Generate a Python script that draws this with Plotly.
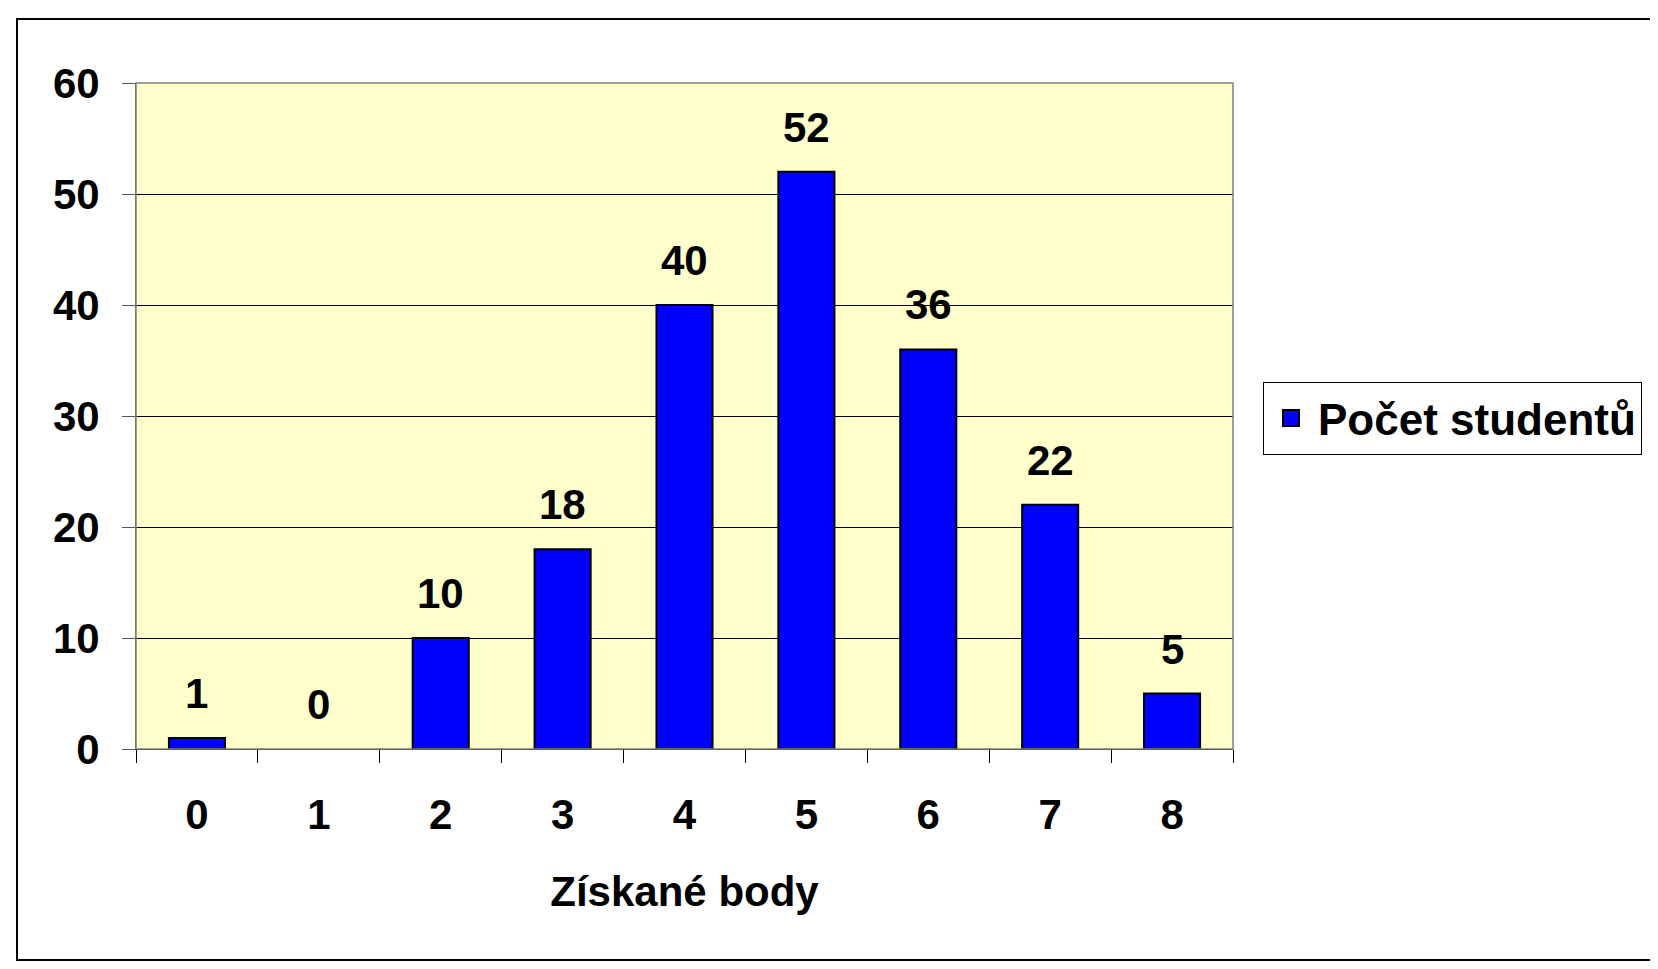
import plotly.graph_objects as go

categories = ["0", "1", "2", "3", "4", "5", "6", "7", "8"]
values = [1, 0, 10, 18, 40, 52, 36, 22, 5]
series_name = "Počet studentů"
x_title = "Získané body"
y_ticks = [0, 10, 20, 30, 40, 50, 60]

FONT = "Liberation Sans, Arial, sans-serif"
BLUE = "#0000FF"

# page body has an 8px default margin -> work in page coords minus 8
OFF = 8
W, H = 1650, 961
L, R, T, B = 136 - OFF, 1233 - OFF, 83 - OFF, 749 - OFF

fig = go.Figure()
fig.add_trace(go.Bar(
    x=categories, y=values, name=series_name, showlegend=False,
    marker=dict(color=BLUE,
                line=dict(color="black", width=[2 if v > 0 else 0 for v in values])),
))
# legend entry with a larger square swatch
fig.add_trace(go.Scatter(
    x=[None], y=[None], mode="markers", name=series_name,
    marker=dict(symbol="square", size=24, color=BLUE, line=dict(color="black", width=2)),
))

for c, v in zip(categories, values):
    fig.add_annotation(x=c, y=v, text=str(v), showarrow=False,
                       xanchor="center", yanchor="bottom", yshift=19,
                       font=dict(family=FONT, size=42, color="black", weight="bold"))

fig.update_layout(
    width=W, height=H,
    margin=dict(l=L, r=W - R, t=T, b=H - B),
    paper_bgcolor="white",
    plot_bgcolor="#FFFFCC",
    bargap=0.54,
    font=dict(family=FONT, color="black", size=42),
    showlegend=True,
    legend=dict(
        x=(1263 - OFF - L) / (R - L), y=(B - (382 - OFF)) / (B - T),
        xanchor="left", yanchor="top",
        bgcolor="white", bordercolor="black", borderwidth=1,
        font=dict(family=FONT, size=44, color="black", weight="bold"),
        itemsizing="trace", itemwidth=44,
        tracegroupgap=0,
    ),
    xaxis=dict(
        type="category",
        tickfont=dict(family=FONT, size=42, weight="bold"),
        ticks="outside", ticklen=13, tickwidth=1, tickcolor="black",
        tickson="boundaries",
        showline=True, linecolor="black", linewidth=1,
        showgrid=False,
        title=dict(text=x_title, font=dict(family=FONT, size=42, weight="bold"), standoff=39),
        ticklabelstandoff=29,
    ),
    yaxis=dict(
        range=[0, 60], tickvals=y_ticks,
        tickfont=dict(family=FONT, size=42, weight="bold"),
        ticks="outside", ticklen=13, tickwidth=1, tickcolor="#555555",
        showline=True, linecolor="#555555", linewidth=1,
        showgrid=True, gridcolor="black", gridwidth=1,
        zeroline=False,
        ticklabelstandoff=14,
    ),
)

# plot-area border and chart frame
fig.add_shape(type="rect", xref="paper", yref="paper", x0=0, y0=0, x1=1, y1=1,
              line=dict(color="#808080", width=1.5), layer="above")
fig.add_shape(type="rect", xref="paper", yref="paper",
              x0=(17 - OFF - L) / (R - L), x1=(1657 - OFF - L) / (R - L),
              y0=(B - (960 - OFF)) / (B - T), y1=(B - (19 - OFF)) / (B - T),
              line=dict(color="black", width=2))

fig.write_html("out.html")
